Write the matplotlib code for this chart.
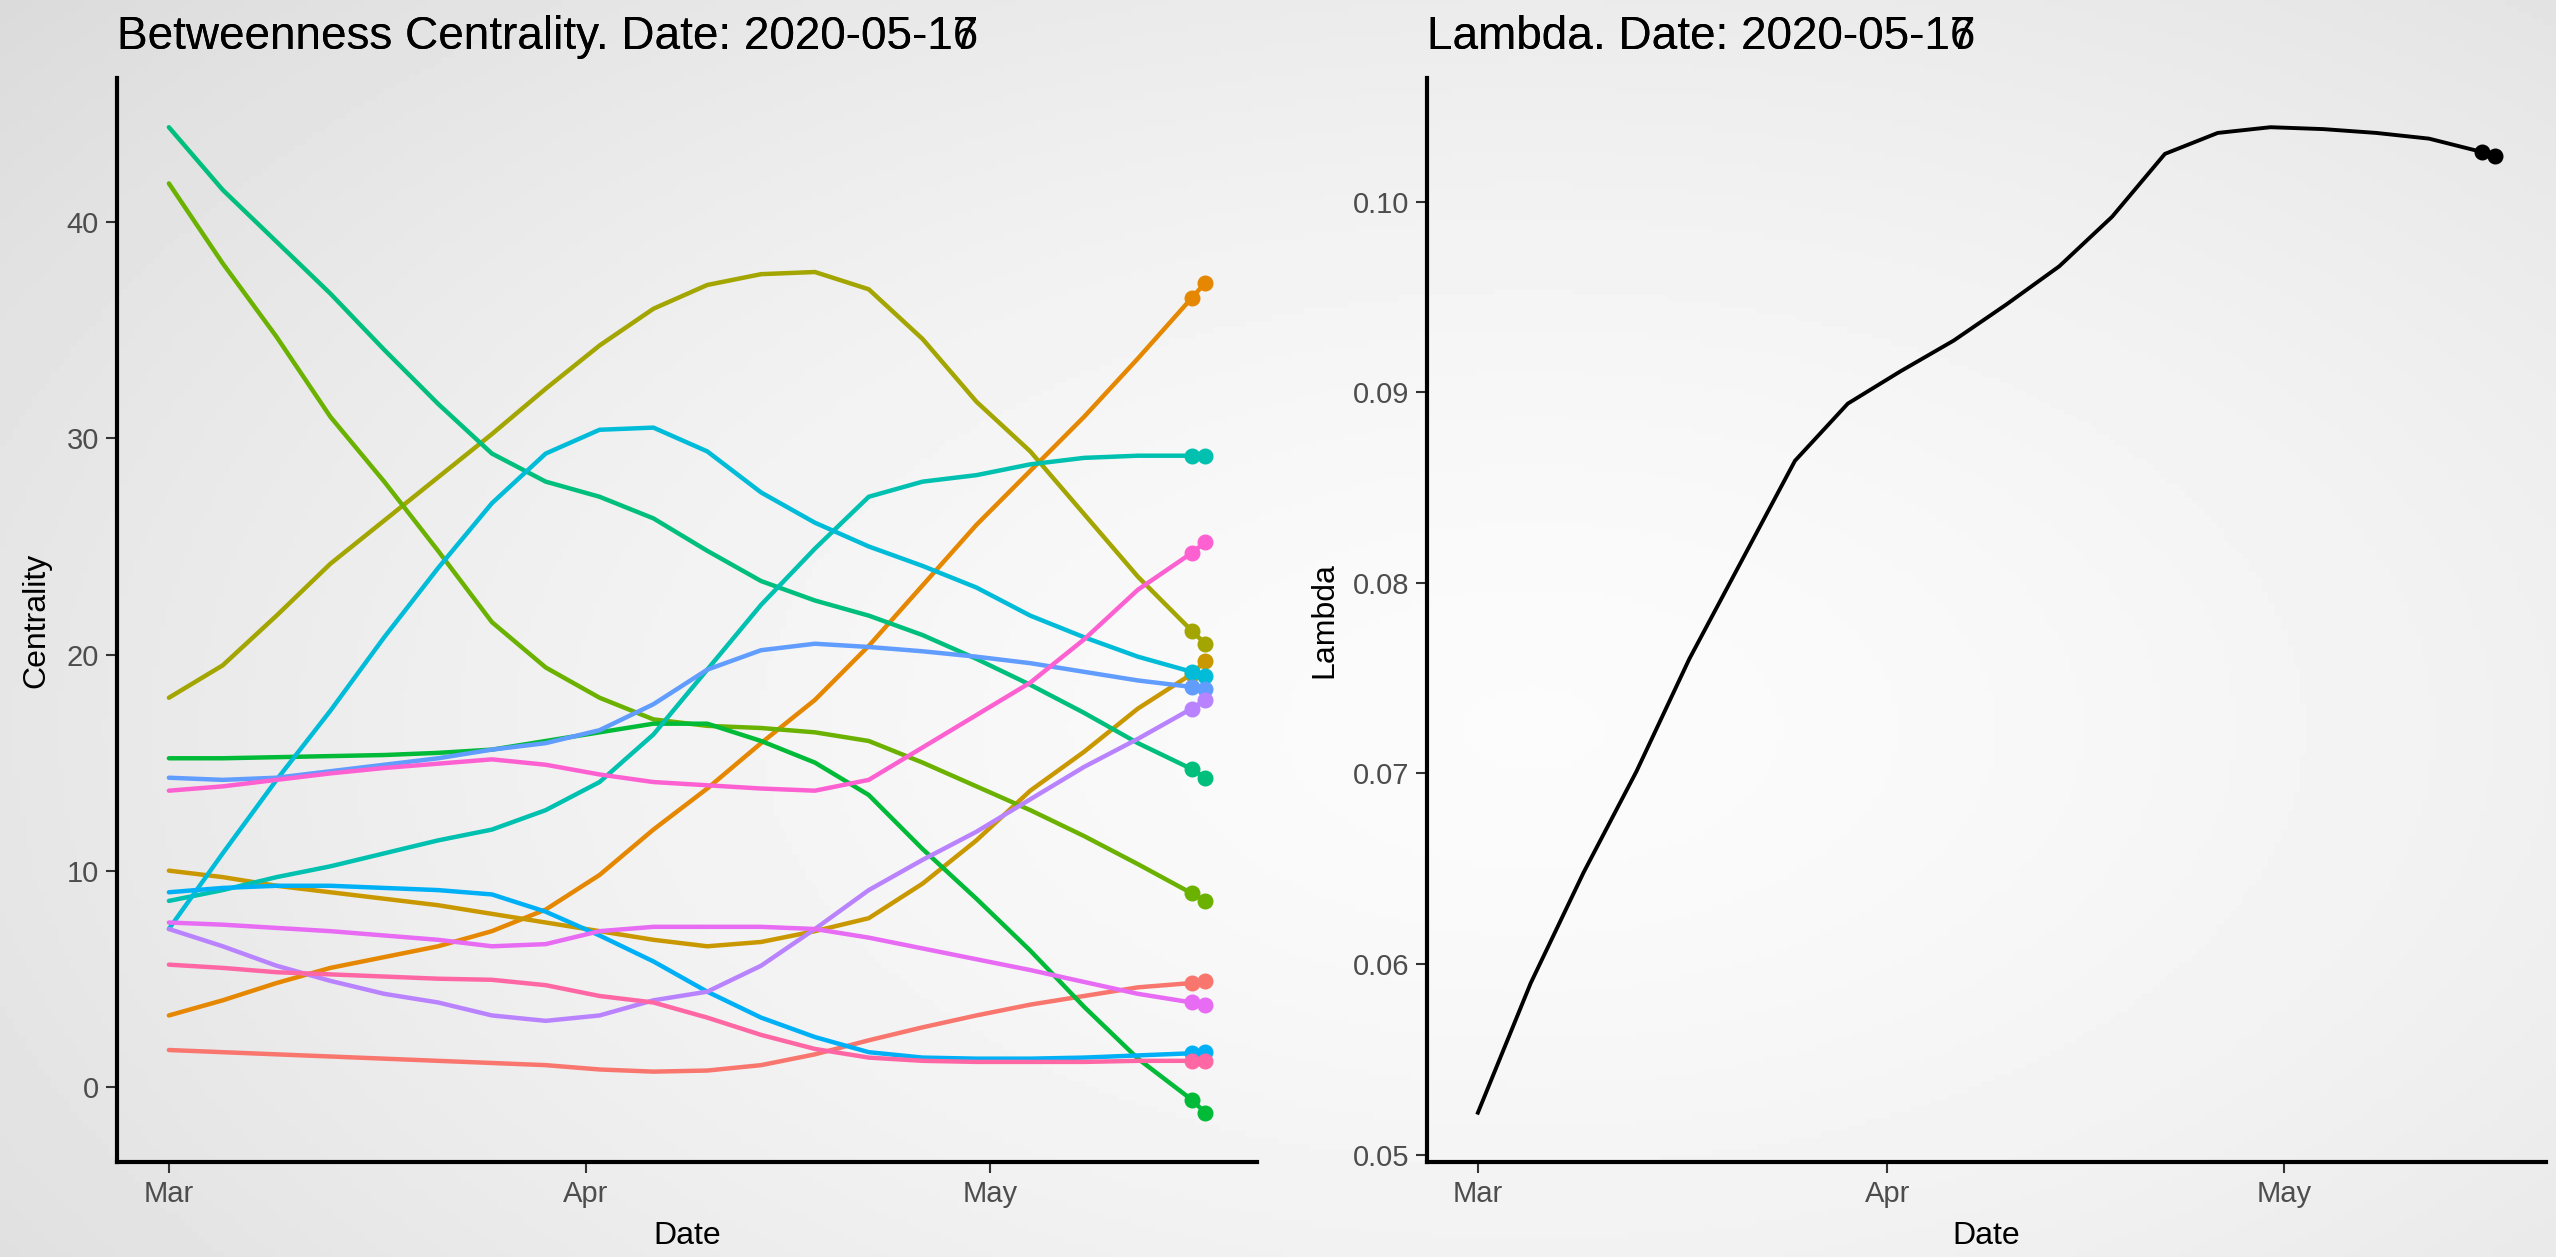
import numpy as np
import pandas as pd
import matplotlib
matplotlib.use("Agg")
import matplotlib.pyplot as plt
import matplotlib.dates as mdates

# dates (every 4 days + the last two frames)
dates = pd.to_datetime([
    "2020-03-01", "2020-03-05", "2020-03-09", "2020-03-13", "2020-03-17",
    "2020-03-21", "2020-03-25", "2020-03-29", "2020-04-02", "2020-04-06",
    "2020-04-10", "2020-04-14", "2020-04-18", "2020-04-22", "2020-04-26",
    "2020-04-30", "2020-05-04", "2020-05-08", "2020-05-12", "2020-05-16",
    "2020-05-17",
])

# betweenness centrality per node (ggplot hue order)
node_a = [1.7, 1.6, 1.5, 1.4, 1.3, 1.2, 1.1, 1.0, 0.8, 0.7, 0.75, 1.0, 1.5, 2.15, 2.75, 3.3, 3.8, 4.2, 4.6, 4.8, 4.9]
node_b = [3.3, 4.0, 4.8, 5.5, 6.0, 6.5, 7.2, 8.2, 9.8, 11.9, 13.8, 15.9, 17.9, 20.4, 23.2, 26.0, 28.5, 31.0, 33.7, 36.5, 37.2]
node_c = [10.0, 9.7, 9.3, 9.0, 8.7, 8.4, 8.0, 7.6, 7.2, 6.8, 6.5, 6.7, 7.2, 7.8, 9.4, 11.4, 13.7, 15.5, 17.5, 19.1, 19.7]
node_d = [18.0, 19.5, 21.8, 24.2, 26.2, 28.2, 30.2, 32.3, 34.3, 36.0, 37.1, 37.6, 37.7, 36.9, 34.6, 31.7, 29.4, 26.5, 23.6, 21.1, 20.5]
node_e = [41.8, 38.1, 34.7, 31.0, 28.0, 24.8, 21.5, 19.4, 18.0, 17.0, 16.7, 16.6, 16.4, 16.0, 15.0, 13.9, 12.8, 11.6, 10.3, 8.95, 8.6]
node_f = [15.2, 15.2, 15.25, 15.3, 15.35, 15.45, 15.6, 16.0, 16.4, 16.8, 16.8, 16.0, 15.0, 13.5, 11.0, 8.7, 6.3, 3.7, 1.3, -0.6, -1.2]
node_g = [44.4, 41.5, 39.1, 36.7, 34.1, 31.6, 29.3, 28.0, 27.3, 26.3, 24.8, 23.4, 22.5, 21.8, 20.9, 19.8, 18.6, 17.3, 15.9, 14.7, 14.3]
node_h = [8.6, 9.1, 9.7, 10.2, 10.8, 11.4, 11.9, 12.8, 14.1, 16.3, 19.3, 22.3, 24.9, 27.3, 28.0, 28.3, 28.8, 29.1, 29.2, 29.2, 29.2]
node_i = [7.3, 10.8, 14.2, 17.4, 20.8, 24.0, 27.0, 29.3, 30.4, 30.5, 29.4, 27.5, 26.1, 25.0, 24.1, 23.1, 21.8, 20.8, 19.9, 19.2, 19.0]
node_j = [9.0, 9.2, 9.3, 9.3, 9.2, 9.1, 8.9, 8.1, 7.0, 5.8, 4.4, 3.2, 2.3, 1.6, 1.35, 1.3, 1.3, 1.35, 1.45, 1.55, 1.6]
node_k = [14.3, 14.2, 14.3, 14.6, 14.9, 15.2, 15.6, 15.9, 16.5, 17.7, 19.3, 20.2, 20.5, 20.35, 20.15, 19.9, 19.6, 19.2, 18.8, 18.5, 18.4]
node_l = [7.3, 6.5, 5.6, 4.9, 4.3, 3.9, 3.3, 3.05, 3.3, 4.0, 4.4, 5.6, 7.3, 9.1, 10.5, 11.8, 13.3, 14.8, 16.1, 17.5, 17.9]
node_m = [7.6, 7.5, 7.35, 7.2, 7.0, 6.8, 6.5, 6.6, 7.2, 7.4, 7.4, 7.4, 7.3, 6.9, 6.4, 5.9, 5.4, 4.85, 4.3, 3.9, 3.8]
node_n = [13.7, 13.9, 14.2, 14.5, 14.75, 14.95, 15.15, 14.9, 14.45, 14.1, 13.95, 13.8, 13.7, 14.2, 15.7, 17.2, 18.7, 20.7, 23.0, 24.7, 25.2]
node_o = [5.65, 5.5, 5.3, 5.2, 5.1, 5.0, 4.95, 4.7, 4.2, 3.9, 3.2, 2.4, 1.75, 1.35, 1.2, 1.15, 1.15, 1.15, 1.2, 1.2, 1.2]

# lambda
lambda_vals = [0.0522, 0.0590, 0.0648, 0.0701, 0.0760, 0.0812, 0.0864, 0.0894, 0.0911, 0.0927,
               0.0946, 0.0966, 0.0992, 0.1025, 0.1036, 0.1039, 0.1038, 0.1036, 0.1033, 0.1026, 0.1024]

frame_dates = ["2020-05-16", "2020-05-17"]

palette = ["#F8766D", "#E58700", "#C99800", "#A3A500", "#6BB100", "#00BA38", "#00BF7D", "#00C0AF",
           "#00BCD8", "#00B0F6", "#619CFF", "#B983FF", "#E76BF3", "#FD61D1", "#FF67A4"]
centrality = [node_a, node_b, node_c, node_d, node_e, node_f, node_g, node_h,
              node_i, node_j, node_k, node_l, node_m, node_n, node_o]

plt.rcParams['font.family'] = ['Liberation Sans', 'DejaVu Sans']

fig = plt.figure(figsize=(25.56, 12.57), dpi=100)

# soft radial background like the exported gif
bg = fig.add_axes([0, 0, 1, 1], zorder=-10)
gx, gy = np.meshgrid(np.linspace(0, 1, 400), np.linspace(0, 1, 200))
r = np.sqrt(((gx - 0.6) / 0.65) ** 2 + ((gy - 0.42) / 0.75) ** 2)
shade = 0.985 - 0.095 * np.clip(r, 0, 1.3) ** 1.6
bg.imshow(shade, cmap="gray", vmin=0, vmax=1, extent=[0, 1, 0, 1], origin="lower", aspect="auto")
bg.axis("off")

ax1 = fig.add_axes([0.0458, 0.0756, 0.446, 0.8624])
ax2 = fig.add_axes([0.5583, 0.0756, 0.4378, 0.8624])

last = len(dates) - 2
for vals, col in zip(centrality, palette):
    ax1.plot(dates, vals, color=col, lw=3.2, solid_capstyle="round", solid_joinstyle="round")
    ax1.plot(dates[last:], vals[last:], "o", color=col, ms=10.5)

ax2.plot(dates, lambda_vals, color="black", lw=2.8, solid_joinstyle="round")
ax2.plot(dates[last:], lambda_vals[last:], "o", color="black", ms=10.5)

span = (dates[-1] - dates[0]) * 0.05
for ax in (ax1, ax2):
    ax.set_facecolor("none")
    ax.set_xlim(dates[0] - span, dates[-1] + span)
    ax.xaxis.set_major_locator(mdates.MonthLocator())
    ax.xaxis.set_major_formatter(mdates.DateFormatter("%b"))
    for s in ("top", "right"):
        ax.spines[s].set_visible(False)
    for s in ("left", "bottom"):
        ax.spines[s].set_linewidth(3)
        ax.spines[s].set_color("black")
    ax.tick_params(length=8, width=1.5, pad=5, labelsize=21, labelcolor="#4D4D4D", color="#333333")
    ax.text(0.5, -0.068, "Date", transform=ax.transAxes, ha="center", va="center", fontsize=23)
    ax.grid(False)

ylo, yhi = min(min(v) for v in centrality), max(max(v) for v in centrality)
ax1.set_ylim(ylo - 0.05 * (yhi - ylo), yhi + 0.05 * (yhi - ylo))
ax1.set_yticks([0, 10, 20, 30, 40])
ax1.text(-0.0707, 0.5, "Centrality", transform=ax1.transAxes, rotation=90, ha="center", va="center", fontsize=23)

lo, hi = min(lambda_vals), max(lambda_vals)
ax2.set_ylim(lo - 0.05 * (hi - lo), hi + 0.05 * (hi - lo))
ax2.set_yticks([0.05, 0.06, 0.07, 0.08, 0.09, 0.10])
ax2.set_yticklabels(["0.05", "0.06", "0.07", "0.08", "0.09", "0.10"])
ax2.text(-0.092, 0.5, "Lambda", transform=ax2.transAxes, rotation=90, ha="center", va="center", fontsize=23)

# two animation frames overlap in the title
for d in frame_dates:
    ax1.text(0, 1.027, "Betweenness Centrality. Date: " + d, transform=ax1.transAxes,
             ha="left", va="baseline", fontsize=33)
    ax2.text(0, 1.027, "Lambda. Date: " + d, transform=ax2.transAxes,
             ha="left", va="baseline", fontsize=33)

fig.savefig("out.png", dpi=100)
